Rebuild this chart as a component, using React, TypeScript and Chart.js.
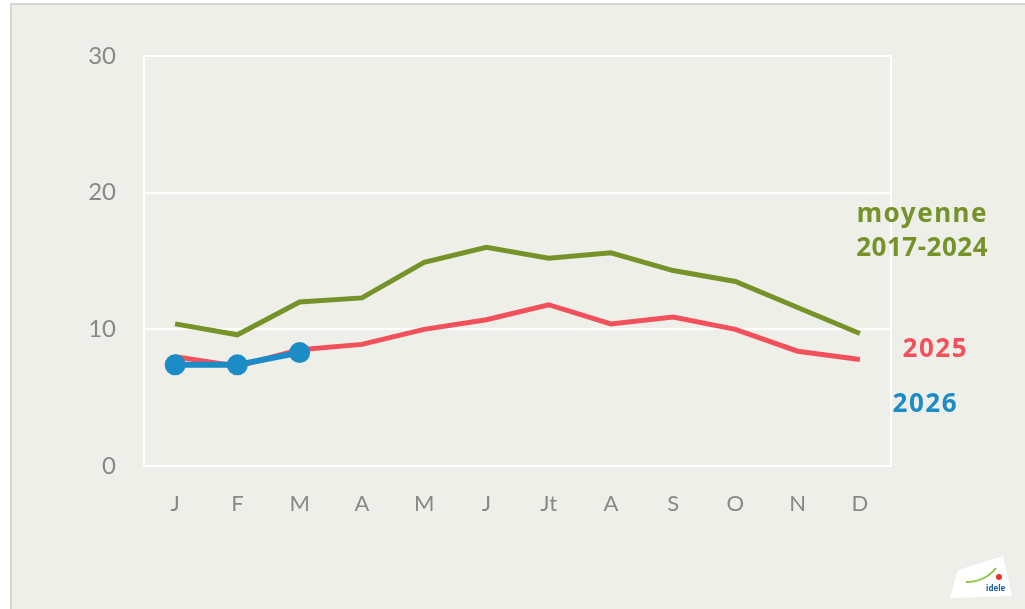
import React, { useEffect, useRef } from "react";
import { Chart, registerables } from "chart.js";

Chart.register(...registerables);

const months = ["J", "F", "M", "A", "M", "J", "Jt", "A", "S", "O", "N", "D"];
const moyenne = [10.4, 9.6, 12.0, 12.3, 14.9, 16.0, 15.2, 15.6, 14.3, 13.5, 11.6, 9.7];
const y2025 = [8.0, 7.3, 8.5, 8.9, 10.0, 10.7, 11.8, 10.4, 10.9, 10.0, 8.4, 7.8];
const y2026 = [7.4, 7.4, 8.3];
const yTicks = [0, 10, 20, 30];

const GREEN = "#76932a";
const RED = "#f2515b";
const BLUE = "#1b8cc5";
const BG = "#efefe9";

const framePlugin = {
  id: "frame",
  beforeDatasetsDraw(chart: any) {
    const { ctx, chartArea } = chart;
    ctx.save();
    ctx.strokeStyle = "#ffffff";
    ctx.lineWidth = 2;
    ctx.beginPath();
    ctx.moveTo(chartArea.left, chartArea.top);
    ctx.lineTo(chartArea.left, chartArea.bottom);
    ctx.moveTo(chartArea.right, chartArea.top);
    ctx.lineTo(chartArea.right, chartArea.bottom);
    ctx.stroke();
    ctx.restore();
  },
  afterDraw(chart: any) {
    const { ctx } = chart;
    ctx.save();
    ctx.font = "bold 26px 'Noto Sans', sans-serif";
    ctx.textBaseline = "middle";
    ctx.textAlign = "right";
    (ctx as any).letterSpacing = "1.5px";
    ctx.fillStyle = GREEN;
    ctx.fillText("moyenne", 988, 215);
    (ctx as any).letterSpacing = "0.5px";
    ctx.fillText("2017-2024", 988, 249);
    (ctx as any).letterSpacing = "1.5px";
    ctx.fillStyle = RED;
    ctx.fillText("2025", 968, 350);
    ctx.fillStyle = BLUE;
    ctx.fillText("2026", 958, 405);
    (ctx as any).letterSpacing = "0px";

    // logo
    ctx.fillStyle = "#ffffff";
    ctx.beginPath();
    ctx.moveTo(958, 570);
    ctx.lineTo(1003, 556);
    ctx.lineTo(1012, 596);
    ctx.lineTo(950, 598);
    ctx.closePath();
    ctx.fill();
    ctx.strokeStyle = "#8cc63f";
    ctx.lineWidth = 2;
    ctx.beginPath();
    ctx.moveTo(966, 582);
    ctx.quadraticCurveTo(985, 582, 996, 568);
    ctx.stroke();
    ctx.fillStyle = "#e5332a";
    ctx.beginPath();
    ctx.arc(999, 577, 3, 0, Math.PI * 2);
    ctx.fill();
    ctx.fillStyle = "#1d5fa8";
    ctx.font = "bold 8px 'Noto Sans', sans-serif";
    ctx.textAlign = "left";
    ctx.fillText("idele", 986, 589);
    ctx.restore();
  },
};

export default function App() {
  const ref = useRef<HTMLCanvasElement | null>(null);

  useEffect(() => {
    if (!ref.current) return;
    const chart = new Chart(ref.current, {
      type: "line",
      data: {
        labels: months,
        datasets: [
          {
            label: "2026",
            data: y2026,
            borderColor: BLUE,
            backgroundColor: BLUE,
            borderWidth: 6,
            pointRadius: 10.5,
            pointBackgroundColor: BLUE,
            pointBorderColor: BLUE,
            pointBorderWidth: 0,
            tension: 0,
          },
          {
            label: "2025",
            data: y2025,
            borderColor: RED,
            borderWidth: 5,
            pointRadius: 0,
            tension: 0,
          },
          {
            label: "moyenne 2017-2024",
            data: moyenne,
            borderColor: GREEN,
            borderWidth: 5,
            pointRadius: 0,
            tension: 0,
          },
        ],
      },
      options: {
        animation: false,
        responsive: false,
        maintainAspectRatio: false,
        layout: { padding: { top: 56, right: 134, left: 0, bottom: 0 } },
        plugins: {
          legend: { display: false },
          tooltip: { enabled: false },
        },
        scales: {
          x: {
            offset: true,
            grid: { display: false },
            border: { display: false },
            ticks: {
              color: "#888888",
              font: { family: "Lato, 'Open Sans', sans-serif", size: 22, weight: "normal" },
              padding: 17,
              maxRotation: 0,
            },
            afterFit: (s: any) => {
              s.height = 143;
            },
          },
          y: {
            min: 0,
            max: 30,
            afterBuildTicks: (s: any) => {
              s.ticks = yTicks.map((v) => ({ value: v }));
            },
            grid: { color: "#ffffff", lineWidth: 2, drawTicks: false },
            border: { display: false },
            ticks: {
              color: "#888888",
              font: { family: "Lato, 'Open Sans', sans-serif", size: 24, weight: "normal" },
              padding: 28,
            },
            afterFit: (s: any) => {
              s.width = 144;
            },
          },
        },
      },
      plugins: [framePlugin],
    });
    return () => chart.destroy();
  }, []);

  return (
    <div style={{ position: "fixed", left: 0, top: 0, width: 1025, height: 609, background: "#ffffff" }}>
      <div
        style={{
          position: "absolute",
          left: 10,
          top: 3,
          width: 1015,
          height: 606,
          background: BG,
          borderTop: "2px solid #d6d6d2",
          borderLeft: "2px solid #d6d6d2",
          boxSizing: "border-box",
        }}
      />
      <canvas
        ref={ref}
        width={1025}
        height={609}
        style={{ position: "absolute", left: 0, top: 0, width: 1025, height: 609 }}
      />
    </div>
  );
}
